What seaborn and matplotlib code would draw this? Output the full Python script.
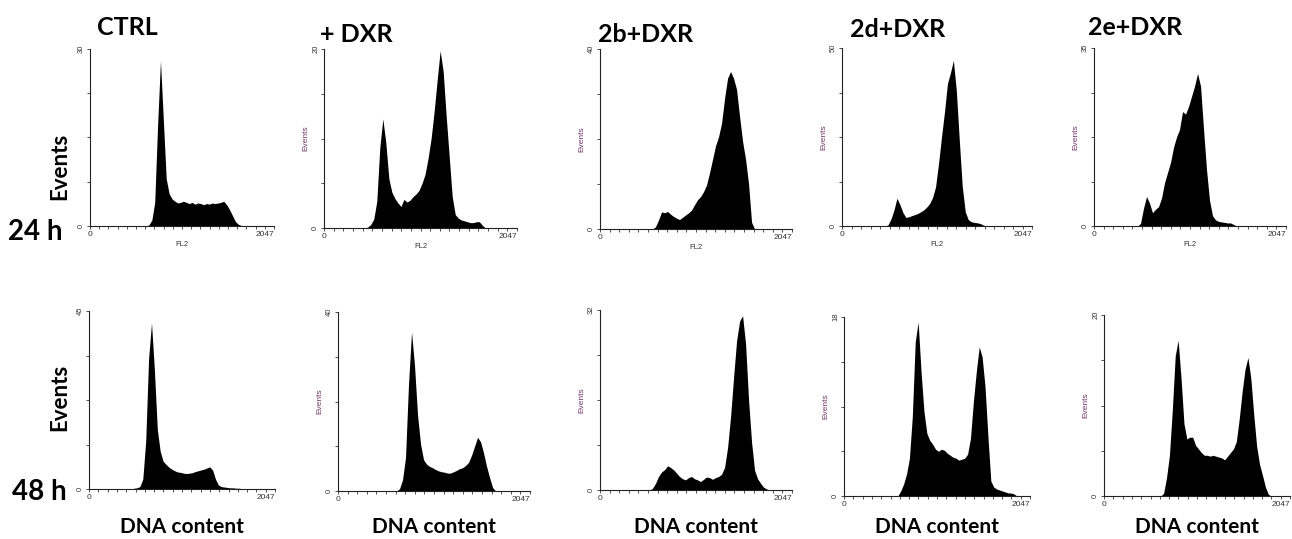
import numpy as np
import pandas as pd
import matplotlib
matplotlib.use("Agg")
import matplotlib.pyplot as plt
import seaborn as sns

# FL2 channel bins (32 channels per bin, 0..2048)
n_bins = 64
channel_mid = np.arange(n_bins) * 32 + 16

conditions = ["CTRL", "+ DXR", "2b+DXR", "2d+DXR", "2e+DXR"]
times = ["24 h", "48 h"]

# events per bin (leading zeros = empty channels)
ctrl_24h = [0] * 20 + [0.2, 1.0, 4.0, 17.0, 28.0, 18.0, 8.0, 5.5, 4.6, 4.2, 3.9, 4.0, 4.2, 4.0, 3.8,
                       4.0, 3.7, 3.9, 3.8, 3.6, 3.8, 3.7, 3.9, 3.8, 3.9, 4.0, 4.2, 3.6, 2.8, 1.8,
                       0.8, 0.3, 0.1]
dxr_24h = [0] * 14 + [0.1, 0.4, 1.0, 3.0, 9.0, 12.2, 9.5, 5.5, 4.0, 3.3, 2.8, 2.4, 3.2, 2.9, 3.1,
                      3.5, 3.8, 4.2, 5.0, 6.0, 7.8, 10.0, 13.0, 16.5, 19.8, 17.5, 12.5, 8.0, 3.5,
                      1.5, 1.1, 0.9, 0.8, 0.7, 0.6, 0.6, 0.7, 0.7, 0.3]
b2_24h = [0] * 18 + [0.5, 2.0, 3.8, 3.6, 3.9, 3.3, 2.8, 2.4, 2.1, 2.6, 3.1, 3.6, 4.2, 5.4, 6.5,
                     7.2, 8.3, 9.8, 12.5, 15.5, 18.5, 20.5, 23.5, 29.0, 33.5, 35.0, 33.5, 31.0,
                     25.0, 19.5, 15.5, 10.0, 1.5]
d2_24h = [0] * 15 + [0.3, 2.0, 4.5, 7.8, 6.0, 3.8, 2.4, 2.6, 2.9, 3.2, 3.5, 4.0, 4.5, 5.3, 6.3,
                     8.0, 11.0, 17.5, 25.0, 32.0, 40.0, 43.0, 46.5, 38.0, 24.0, 11.0, 4.0, 1.8,
                     1.2, 1.0, 0.9, 0.7, 0.3]
e2_24h = [0] * 15 + [0.5, 3.5, 5.8, 4.5, 2.6, 3.3, 3.8, 5.5, 8.5, 10.5, 12.5, 15.5, 17.5, 19.0,
                     22.5, 22.0, 23.5, 25.5, 27.5, 30.0, 27.5, 19.0, 11.0, 5.0, 2.0, 1.2, 0.9,
                     0.8, 0.7, 0.6, 0.6, 0.3]
ctrl_48h = [0] * 15 + [0.2, 0.3, 0.6, 2.5, 12.0, 33.0, 42.0, 30.0, 15.0, 9.5, 7.0, 6.2, 5.5, 5.0,
                       4.6, 4.3, 4.2, 4.0, 3.9, 4.0, 4.1, 4.4, 4.6, 4.8, 5.0, 5.3, 5.6, 4.8, 2.5,
                       1.0, 0.6, 0.5, 0.4, 0.3, 0.3, 0.2, 0.2, 0.1]
dxr_48h = [0] * 20 + [0.5, 2.5, 7.5, 24.0, 35.5, 28.0, 17.0, 10.5, 7.0, 6.0, 5.5, 5.2, 4.8, 4.5,
                      4.3, 4.2, 4.0, 4.0, 4.3, 4.6, 5.0, 5.2, 5.7, 6.4, 8.0, 10.0, 12.0, 11.0,
                      8.5, 5.5, 3.0, 0.8]
b2_48h = [0] * 17 + [0.3, 1.2, 2.4, 3.2, 3.6, 4.3, 4.0, 3.6, 3.0, 2.4, 2.0, 1.8, 2.2, 2.4, 2.0,
                     1.8, 1.5, 1.9, 2.3, 2.2, 1.9, 2.2, 2.4, 2.8, 4.0, 7.5, 13.0, 20.0, 26.5,
                     30.0, 31.0, 26.0, 16.0, 8.5, 3.5, 2.0, 1.2, 0.5, 0.2]
d2_48h = [0] * 19 + [0.5, 1.2, 2.2, 3.8, 8.0, 15.5, 17.5, 12.5, 8.5, 6.3, 5.6, 5.2, 4.7, 4.5,
                     4.7, 4.6, 4.3, 4.1, 3.9, 3.8, 3.6, 3.7, 3.8, 4.2, 5.8, 9.5, 12.5, 15.0,
                     14.0, 11.0, 6.0, 1.5, 0.9, 0.7, 0.6, 0.5, 0.4, 0.3, 0.3, 0.2]
e2_48h = [0] * 20 + [0.3, 2.0, 4.5, 9.5, 15.5, 17.2, 13.0, 8.0, 6.3, 6.5, 6.5, 5.6, 5.2, 4.8,
                     4.5, 4.5, 4.4, 4.5, 4.4, 4.3, 4.2, 4.0, 4.4, 4.8, 5.2, 6.0, 8.5, 11.5, 14.0,
                     15.3, 13.0, 9.0, 5.5, 3.5, 2.3, 1.0, 0.2]

series = [[ctrl_24h, dxr_24h, b2_24h, d2_24h, e2_24h],
          [ctrl_48h, dxr_48h, b2_48h, d2_48h, e2_48h]]
y_max = [[30, 20, 40, 50, 35],
         [45, 40, 32, 18, 20]]

# layout in pixels (left, top, right, bottom)
W, H = 1292, 539
boxes = [[(90, 49, 274, 226), (324, 49, 517, 228), (600, 49, 792, 229),
          (842, 48, 1032, 226), (1094, 48, 1286, 226)],
         [(89, 311, 275, 489), (338, 312, 530, 491), (600, 310, 792, 490),
          (844, 317, 1030, 496), (1104, 315, 1290, 496)]]
title_pos = [(97, 35), (320, 42), (598, 42), (850, 37), (1088, 35)]
time_pos = [(8, 240), (12, 500)]
events_pos = [(60, 166), (60, 397)]

sns.set_style("ticks")
plt.rcParams["font.family"] = ["Liberation Sans", "DejaVu Sans"]
plt.rcParams["text.color"] = "black"
big_font = ["Lato", "DejaVu Sans"]

fig = plt.figure(figsize=(W / 100, H / 100), dpi=100)


def fx(x):
    return x / W


def fy(y):
    return 1 - y / H


for r in range(2):
    for c in range(5):
        x0, y0, x1, y1 = boxes[r][c]
        ax = fig.add_axes([fx(x0), fy(y1), (x1 - x0) / W, (y1 - y0) / H])
        counts = np.zeros(n_bins)
        counts[:len(series[r][c])] = series[r][c]
        df = pd.DataFrame({"channel": channel_mid, "events": counts})
        sns.histplot(data=df, x="channel", weights="events", bins=n_bins, binrange=(0, 2048),
                     element="poly", fill=True, color="black", alpha=1, linewidth=0, ax=ax)
        top = y_max[r][c]
        ax.set_xlim(0, 2047)
        ax.set_ylim(0, top)
        ax.spines["top"].set_visible(False)
        ax.spines["right"].set_visible(False)
        for s in ["left", "bottom"]:
            ax.spines[s].set_linewidth(0.8)
            ax.spines[s].set_color("#222222")
        ax.set_yticks(np.linspace(0, top, 5))
        ax.set_yticklabels(["0", "", "", "", str(top)], rotation=90, va="center")
        ax.set_xticks(np.linspace(0, 2047, 21))
        ax.set_xticklabels(["0"] + [""] * 19 + ["2047"])
        ax.get_xticklabels()[-1].set_horizontalalignment("right")
        ax.tick_params(axis="y", length=2.5, width=0.6, pad=1, labelsize=5.5, colors="#333333")
        ax.tick_params(axis="x", length=2, width=0.6, pad=1.5, labelsize=6, colors="#333333")
        ax.set_xlabel("FL2" if r == 0 else "", fontsize=5.5, color="#333333", labelpad=2)
        if c == 0:
            ax.set_ylabel("")
        else:
            ax.set_ylabel("Events", fontsize=6, color="#74346a", labelpad=2)

for c in range(5):
    fig.text(fx(title_pos[c][0]), fy(title_pos[c][1]), conditions[c], fontsize=18,
             fontweight="bold", family=big_font, ha="left", va="baseline", color="black")
    x0, _, x1, _ = boxes[1][c]
    fig.text(fx((x0 + x1) / 2), fy(533), "DNA content", fontsize=15, fontweight="bold",
             family=big_font, ha="center", va="baseline", color="black")

for r in range(2):
    fig.text(fx(time_pos[r][0]), fy(time_pos[r][1]), times[r], fontsize=20,
             fontweight="bold", family=big_font, ha="left", va="baseline", color="black")
    fig.text(fx(events_pos[r][0]), fy(events_pos[r][1]), "Events", fontsize=16,
             fontweight="bold", family=big_font, rotation=90, ha="center", va="center",
             color="black")

fig.savefig("out.png", dpi=100, facecolor="white")
